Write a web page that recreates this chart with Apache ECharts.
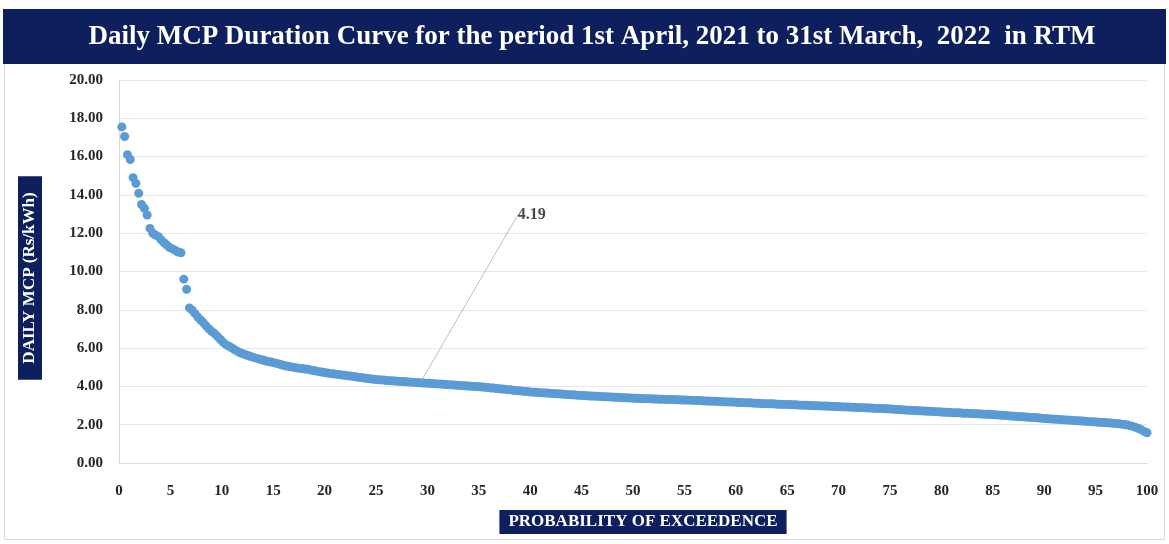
<!DOCTYPE html>
<html>
<head>
<meta charset="utf-8">
<script src="https://cdn.jsdelivr.net/npm/echarts@6/dist/echarts.min.js"></script>
<style>
  html, body { margin: 0; padding: 0; background: #ffffff; }
  #chart { width: 1169px; height: 544px; }
</style>
</head>
<body>
<div id="chart"></div>
<script>
// Chart text
const chartTitle = 'Daily MCP Duration Curve for the period 1st April, 2021 to 31st March,  2022  in RTM';
const yAxisTitle = 'DAILY MCP (Rs/kWh)';
const xAxisTitle = 'PROBABILITY OF EXCEEDENCE';

// Daily market clearing price (Rs/kWh), sorted from highest to lowest day of the year
const dailyMcp = [
  17.55, 17.05, 16.10, 15.85, 14.90, 14.60, 14.08, 13.50, 13.30, 12.95,
  12.25, 12.00, 11.90, 11.82, 11.65, 11.50, 11.38, 11.25, 11.18, 11.10,
  11.02, 10.98, 9.60, 9.07, 8.10, 7.98, 7.80, 7.62, 7.47, 7.32,
  7.15, 7.00, 6.86, 6.75, 6.60, 6.45, 6.30, 6.18, 6.10, 6.02,
  5.92, 5.84, 5.76, 5.70, 5.65, 5.60, 5.55, 5.50, 5.46, 5.42,
  5.38, 5.34, 5.30, 5.27, 5.24,
  5.20, 5.16, 5.12, 5.08, 5.05, 5.02, 4.99, 4.97, 4.95, 4.93,
  4.91, 4.89, 4.86, 4.83, 4.80, 4.77, 4.75, 4.72,
  4.70, 4.68, 4.66, 4.64, 4.62, 4.60, 4.58, 4.56, 4.54, 4.52,
  4.50, 4.48, 4.46, 4.44, 4.42, 4.40, 4.38, 4.36,
  4.35, 4.34, 4.33, 4.31, 4.30, 4.29, 4.28, 4.27, 4.26, 4.25,
  4.24, 4.23, 4.22, 4.21, 4.20, 4.19, 4.18, 4.17, 4.16,
  4.15, 4.14, 4.13, 4.12, 4.11, 4.10, 4.09, 4.08, 4.07, 4.06,
  4.05, 4.04, 4.03, 4.02, 4.01, 4.00, 3.99, 3.98,
  3.97, 3.95, 3.94, 3.92, 3.91, 3.89, 3.88, 3.86, 3.85, 3.83,
  3.82, 3.80, 3.79, 3.77, 3.76, 3.74, 3.73, 3.71,
  3.70, 3.69, 3.68, 3.67, 3.66, 3.65, 3.64, 3.63, 3.62, 3.61,
  3.60, 3.59, 3.58, 3.57, 3.56, 3.55, 3.54, 3.53,
  3.52, 3.51, 3.50, 3.50, 3.49, 3.48, 3.47, 3.46, 3.46, 3.45,
  3.44, 3.43, 3.43, 3.42, 3.41, 3.41, 3.40, 3.39,
  3.38, 3.38, 3.37, 3.37, 3.36, 3.36, 3.35, 3.34, 3.34, 3.33,
  3.33, 3.32, 3.32, 3.31, 3.31, 3.30, 3.30, 3.29, 3.29,
  3.28, 3.28, 3.27, 3.26, 3.26, 3.25, 3.24, 3.24, 3.23, 3.22,
  3.22, 3.21, 3.20, 3.20, 3.19, 3.18, 3.18, 3.17,
  3.16, 3.16, 3.15, 3.14, 3.14, 3.13, 3.12, 3.12, 3.11, 3.10,
  3.10, 3.09, 3.09, 3.08, 3.07, 3.07, 3.06, 3.06,
  3.05, 3.04, 3.04, 3.03, 3.02, 3.02, 3.01, 3.00, 3.00, 2.99,
  2.99, 2.98, 2.97, 2.97, 2.96, 2.96, 2.95, 2.95,
  2.94, 2.93, 2.93, 2.92, 2.91, 2.91, 2.90, 2.89, 2.89, 2.88,
  2.87, 2.87, 2.86, 2.85, 2.85, 2.84, 2.83, 2.83, 2.82,
  2.81, 2.80, 2.79, 2.78, 2.77, 2.76, 2.75, 2.74, 2.74, 2.73,
  2.72, 2.71, 2.70, 2.70, 2.69, 2.68, 2.67, 2.66,
  2.65, 2.65, 2.64, 2.63, 2.62, 2.62, 2.61, 2.60, 2.60, 2.59,
  2.58, 2.57, 2.57, 2.56, 2.55, 2.54, 2.54, 2.53,
  2.52, 2.51, 2.50, 2.49, 2.48, 2.46, 2.45, 2.44, 2.43, 2.42,
  2.41, 2.40, 2.39, 2.38, 2.37, 2.36, 2.35, 2.33,
  2.32, 2.31, 2.30, 2.29, 2.28, 2.27, 2.26, 2.25, 2.24, 2.23,
  2.22, 2.21, 2.20, 2.19, 2.18, 2.17, 2.16, 2.15,
  2.14, 2.13, 2.12, 2.11, 2.10, 2.09, 2.08, 2.06, 2.05, 2.03,
  2.01, 1.98, 1.95, 1.91, 1.86, 1.80, 1.73, 1.65, 1.58
];

// Day (1-based rank in the sorted list) whose value is called out
const calloutRank = 107;

// Probability of exceedance for each ranked day: rank / number of days * 100
const points = dailyMcp.map((v, i) => [(i + 1) / dailyMcp.length * 100, v]);
const calloutPoint = points[calloutRank - 1];

const NAVY = '#0d1f5c';
const BLUE = '#5b9bd5';
const SERIF = '"Liberation Serif", "DejaVu Serif", serif';

const chart = echarts.init(document.getElementById('chart'), null, { renderer: 'canvas' });

chart.setOption({
  backgroundColor: '#ffffff',
  animation: false,
  graphic: [
    {
      type: 'rect', z: -1,
      shape: { x: 4.5, y: 60.5, width: 1160, height: 479 },
      style: { fill: '#ffffff', stroke: '#d9d9d9', lineWidth: 1 }
    },
    {
      type: 'rect',
      shape: { x: 3, y: 9, width: 1163, height: 55 },
      style: { fill: NAVY }
    },
    {
      type: 'text',
      x: 592, y: 37,
      style: {
        text: chartTitle,
        fill: '#ffffff',
        font: 'bold 27px ' + SERIF,
        align: 'center',
        verticalAlign: 'middle'
      }
    },
    // Y-axis title badge
    {
      type: 'text',
      x: 30, y: 278,
      rotation: Math.PI / 2,
      style: {
        text: yAxisTitle,
        fill: '#ffffff',
        font: 'bold 17px ' + SERIF,
        align: 'center',
        verticalAlign: 'middle',
        backgroundColor: NAVY,
        padding: [4, 16, 3, 16]
      }
    },
    // X-axis title badge
    {
      type: 'text',
      x: 643, y: 522,
      style: {
        text: xAxisTitle,
        fill: '#ffffff',
        font: 'bold 17px ' + SERIF,
        align: 'center',
        verticalAlign: 'middle',
        backgroundColor: NAVY,
        padding: [4, 9, 3, 9]
      }
    }
  ],
  grid: { left: 119, right: 22, top: 80, bottom: 81, containLabel: false },
  xAxis: {
    type: 'value',
    min: 0, max: 100, interval: 5,
    axisLine: { show: true, lineStyle: { color: '#d9d9d9' } },
    axisTick: { show: false },
    splitLine: { show: false },
    axisLabel: {
      color: '#262626', fontFamily: SERIF, fontWeight: 'bold', fontSize: 15, margin: 21
    }
  },
  yAxis: {
    type: 'value',
    min: 0, max: 20, interval: 2,
    axisLine: { show: true, lineStyle: { color: '#d9d9d9' } },
    axisTick: { show: false },
    splitLine: { show: true, lineStyle: { color: '#e8e8e8', width: 1 } },
    axisLabel: {
      color: '#262626', fontFamily: SERIF, fontWeight: 'bold', fontSize: 15, margin: 16,
      formatter: v => v.toFixed(2)
    }
  },
  series: [
    {
      name: 'Daily MCP',
      type: 'scatter',
      data: points,
      symbol: 'circle',
      symbolSize: 9,
      itemStyle: { color: BLUE, opacity: 1 },
      silent: true
    },
    {
      name: 'Callout',
      type: 'scatter',
      data: [calloutPoint],
      symbolSize: 1,
      itemStyle: { color: 'rgba(0,0,0,0)' },
      silent: true,
      label: {
        show: true,
        formatter: p => p.value[1].toFixed(2),
        position: 'right',
        color: '#1a1a1a',
        fontFamily: SERIF, fontWeight: 'bold', fontSize: 16
      },
      labelLayout: { dx: 92, dy: -168 },
      labelLine: { show: true, lineStyle: { color: '#bfbfbf', width: 1 } }
    }
  ]
});
</script>
</body>
</html>
